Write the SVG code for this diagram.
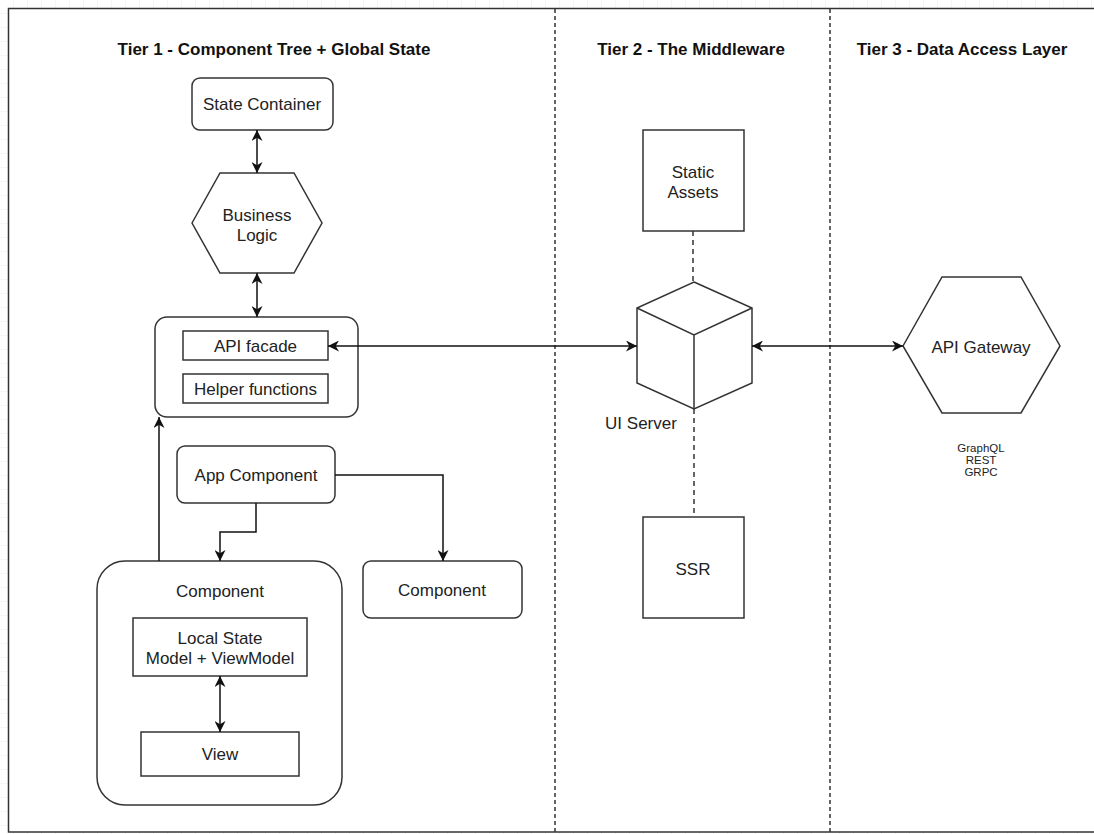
<svg xmlns="http://www.w3.org/2000/svg" width="1094" height="834" viewBox="0 0 1094 834">
<defs>
<pattern id="grid" width="14" height="14" patternUnits="userSpaceOnUse">
<path d="M14,0 V14 M0,14 H14" fill="none" stroke="#ececec" stroke-width="1"/>
</pattern>
<marker id="arr" viewBox="0 0 10 10" refX="10" refY="5" markerWidth="11" markerHeight="11" markerUnits="userSpaceOnUse" orient="auto-start-reverse">
<path d="M0,0 L10,5 L0,10 L3,5 z" fill="#111"/>
</marker>
<style>
.box{fill:#fff;stroke:#333;stroke-width:1.5}
.t{font-family:"Liberation Sans",Arial,sans-serif;font-size:17px;fill:#222;text-anchor:middle}
.title{font-family:"Liberation Sans",Arial,sans-serif;font-size:17px;font-weight:bold;fill:#111;text-anchor:middle}
.small{font-family:"Liberation Sans",Arial,sans-serif;font-size:11.5px;fill:#222;text-anchor:middle}
.c{fill:none;stroke:#111;stroke-width:1.5}
.div{fill:none;stroke:#333;stroke-width:1.5;stroke-dasharray:4 3}
.dl{fill:none;stroke:#333;stroke-width:1.5;stroke-dasharray:5 4}
</style>
</defs>
<rect width="1094" height="834" fill="#fff"/>
<rect width="1094" height="834" fill="url(#grid)"/>
<rect x="8.5" y="8.5" width="1100" height="823.5" fill="#fff" stroke="#333" stroke-width="1.5"/>

<g id="dividers">
<line class="div" x1="555" y1="9" x2="555" y2="832"/>
<line class="div" x1="830" y1="9" x2="830" y2="832"/>
</g>

<g id="titles">
<text class="title" x="274" y="55">Tier 1 - Component Tree + Global State</text>
<text class="title" x="691" y="55">Tier 2 - The Middleware</text>
<text class="title" x="962" y="55">Tier 3 - Data Access Layer</text>
</g>

<g id="state-container">
<rect class="box" x="192" y="78" width="141" height="52" rx="8"/>
<text class="t" x="262" y="110">State Container</text>
</g>

<g id="business-logic">
<polygon class="box" points="192,223 220,173 294,173 322,223 294,273 220,273"/>
<text class="t" x="257" y="221">Business</text>
<text class="t" x="257" y="241">Logic</text>
</g>

<g id="api-module">
<rect class="box" x="155" y="317" width="203" height="100" rx="12"/>
</g>
<g id="api-facade">
<rect class="box" x="183" y="331" width="145" height="29"/>
<text class="t" x="255.5" y="352">API facade</text>
</g>
<g id="helper-functions">
<rect class="box" x="183" y="374" width="145" height="29"/>
<text class="t" x="255.5" y="395">Helper functions</text>
</g>

<g id="app-component">
<rect class="box" x="177" y="446" width="158" height="57" rx="8"/>
<text class="t" x="256" y="481">App Component</text>
</g>

<g id="component-main">
<rect class="box" x="97" y="561" width="245" height="244" rx="28"/>
<text class="t" x="220" y="597">Component</text>
</g>
<g id="local-state">
<rect class="box" x="133" y="618" width="174" height="58"/>
<text class="t" x="220" y="644">Local State</text>
<text class="t" x="220" y="664">Model + ViewModel</text>
</g>
<g id="view">
<rect class="box" x="141" y="732" width="158" height="44"/>
<text class="t" x="220" y="760">View</text>
</g>

<g id="component-2">
<rect class="box" x="363" y="561" width="159" height="57" rx="8"/>
<text class="t" x="442" y="596">Component</text>
</g>

<g id="static-assets">
<rect class="box" x="643" y="130" width="101" height="101"/>
<text class="t" x="693" y="178">Static</text>
<text class="t" x="693" y="198">Assets</text>
</g>

<g id="ui-server">
<polygon class="box" points="694,282 752,308 752,383 694,409 637,383 637,308"/>
<path d="M637,308 L694,335 L752,308 M694,335 V409" fill="none" stroke="#333" stroke-width="1.5"/>
<text class="t" x="641" y="429">UI Server</text>
</g>

<g id="ssr">
<rect class="box" x="643" y="517" width="101" height="101"/>
<text class="t" x="693" y="575">SSR</text>
</g>

<g id="api-gateway">
<polygon class="box" points="903,346 942,277 1021,277 1060,346 1021,413 942,413"/>
<text class="t" x="981" y="353">API Gateway</text>
<text class="small" x="981" y="452">GraphQL</text>
<text class="small" x="981" y="464">REST</text>
<text class="small" x="981" y="476">GRPC</text>
</g>

<g id="connectors">
<line class="c" x1="257" y1="130" x2="257" y2="173" marker-start="url(#arr)" marker-end="url(#arr)"/>
<line class="c" x1="257" y1="273" x2="257" y2="317" marker-start="url(#arr)" marker-end="url(#arr)"/>
<line class="c" x1="328" y1="346" x2="637" y2="346" marker-start="url(#arr)" marker-end="url(#arr)"/>
<line class="c" x1="752" y1="346" x2="903" y2="346" marker-start="url(#arr)" marker-end="url(#arr)"/>
<line class="c" x1="159" y1="561" x2="159" y2="417" marker-end="url(#arr)"/>
<path class="c" d="M256,503 V532 H220 V561" marker-end="url(#arr)"/>
<path class="c" d="M335,475 H443 V561" marker-end="url(#arr)"/>
<line class="c" x1="220" y1="676" x2="220" y2="732" marker-start="url(#arr)" marker-end="url(#arr)"/>
<line class="dl" x1="693" y1="231" x2="693" y2="282"/>
<line class="dl" x1="694" y1="409" x2="694" y2="517"/>
</g>
</svg>
